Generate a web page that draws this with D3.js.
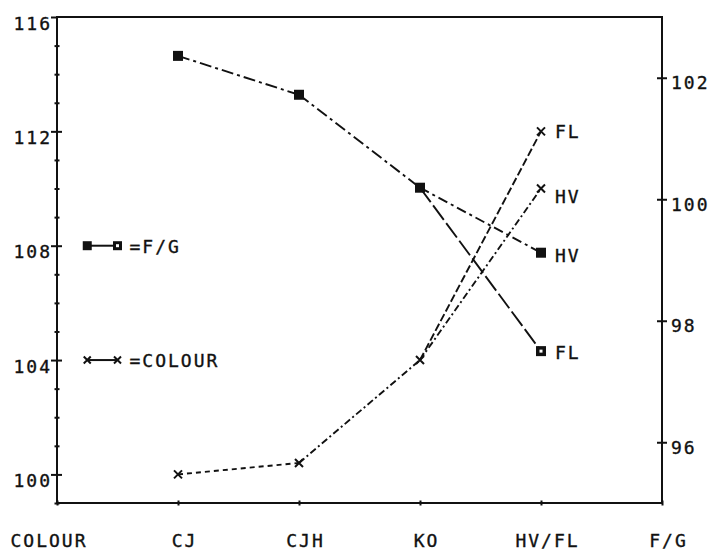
<!DOCTYPE html>
<html>
<head>
<meta charset="utf-8">
<script src="https://cdn.jsdelivr.net/npm/d3@7"></script>
<style>
  html, body { margin: 0; padding: 0; background: #fff; }
  svg { display: block; }
  text { font-family: "DejaVu Sans Mono", monospace; font-size: 18px; letter-spacing: 2px; fill: #111; stroke: #111; stroke-width: 0.35px; }
</style>
</head>
<body>
<svg id="chart" width="710" height="551"></svg>
<script>
// ---- data ----
const axisLabels = ["COLOUR", "CJ", "CJH", "KO", "HV/FL", "F/G"];
const mainCats = ["CJ", "CJH", "KO"];
const branchCat = "HV/FL";
const branchNames = ["HV", "FL"];
const fgValues = [102.36, 101.72, 100.19];      // F/G (right axis) at CJ, CJH, KO
const fgBranchValues = [99.12, 97.5];           // F/G at HV, FL
const colourValues = [100.0, 100.4, 104.0];     // COLOUR (left axis) at CJ, CJH, KO
const colourBranchValues = [110.0, 112.0];      // COLOUR at HV, FL
const leftTicks = [100, 104, 108, 112, 116];
const rightTicks = [96, 98, 100, 102];
const legendItems = ["=F/G", "=COLOUR"];
const legendLevels = [108, 104];

// ---- layout ----
const L = 57, R = 662, T = 17, B = 503;
const svg = d3.select("#chart");
const x = d3.scalePoint().domain(axisLabels).range([L, R]);
const yL = d3.scaleLinear().domain([99, 116]).range([B, T]);
const yR = d3.scaleLinear().domain([95, 103]).range([B, T]);
const ink = "#111";

// frame
svg.append("rect").attr("x", L).attr("y", T).attr("width", R - L).attr("height", B - T)
  .attr("fill", "none").attr("stroke", ink).attr("stroke-width", 2);

// left axis: minor ticks at every unit, major at labelled ticks
const leftAxis = d3.axisLeft(yL).tickValues(d3.range(99, 117)).tickSize(0).tickFormat("");
const gl = svg.append("g").attr("transform", `translate(${L},0)`).call(leftAxis);
gl.select(".domain").remove();
gl.selectAll(".tick").append("line")
  .attr("stroke", ink).attr("stroke-width", 2)
  .attr("x1", d => leftTicks.includes(d) ? -6 : -2.5)
  .attr("x2", d => leftTicks.includes(d) ? (d === 116 ? 0 : 5) : 2.5);
gl.selectAll(".tick").filter(d => leftTicks.includes(d)).append("text")
  .attr("x", -5).attr("dy", 12).attr("text-anchor", "end").text(d => d);

// right axis
const rightAxis = d3.axisRight(yR).tickValues(rightTicks).tickSize(0).tickFormat(d => d);
const gr = svg.append("g").attr("transform", `translate(${R},0)`).call(rightAxis);
gr.select(".domain").remove();
gr.selectAll(".tick text").attr("x", 9).attr("dy", 11).attr("text-anchor", "start");
gr.selectAll(".tick").append("line").attr("x1", -5).attr("x2", 5)
  .attr("stroke", ink).attr("stroke-width", 2);

// bottom axis
const bottomAxis = d3.axisBottom(x).tickSize(0).tickFormat(d => d);
const gb = svg.append("g").attr("transform", `translate(0,${B})`).call(bottomAxis);
gb.select(".domain").remove();
gb.selectAll(".tick").append("line").attr("y1", -2.5).attr("y2", 2.5)
  .attr("stroke", ink).attr("stroke-width", 2);
gb.selectAll(".tick text").attr("y", 44).attr("dy", null)
  .attr("text-anchor", (d, i) => i === 0 ? "end" : "middle")
  .attr("x", (d, i) => i === 0 ? 30 : 6);
svg.selectAll(".tick text").attr("fill", ink).attr("font-family", null).attr("font-size", null);

// ---- series ----
function seg(p, dash, w) {
  svg.append("path")
    .attr("d", d3.line()(p))
    .attr("fill", "none").attr("stroke", ink).attr("stroke-width", w || 1.9)
    .attr("stroke-dasharray", dash);
}
function square(px, py, s, hole) {
  svg.append("rect").attr("x", px - s / 2).attr("y", py - s / 2).attr("width", s).attr("height", s)
    .attr("fill", ink);
  if (hole) svg.append("rect").attr("x", px - 1.5).attr("y", py - 1.5).attr("width", 3).attr("height", 3)
    .attr("fill", "#fff");
}
function cross(px, py, s) {
  svg.append("path")
    .attr("d", `M${px - s},${py - s}L${px + s},${py + s}M${px - s},${py + s}L${px + s},${py - s}`)
    .attr("stroke", ink).attr("stroke-width", 2).attr("fill", "none");
}

// F/G
const fgPts = mainCats.map((c, i) => [x(c), yR(fgValues[i])]);
seg([fgPts[0], fgPts[1]], "12,4,3,4");
seg([fgPts[1], fgPts[2]], "12,4,3,4");
const fgHV = [x(branchCat), yR(fgBranchValues[0])];
const fgFL = [x(branchCat), yR(fgBranchValues[1])];
seg([fgPts[2], fgHV], "10,4,3,4");
seg([fgPts[2], fgFL], "18,4");

// COLOUR
const cPts = mainCats.map((c, i) => [x(c), yL(colourValues[i])]);
seg([cPts[0], cPts[1]], "5,4");
seg([cPts[1], cPts[2]], "7,3,2,3");
const cHV = [x(branchCat), yL(colourBranchValues[0])];
const cFL = [x(branchCat), yL(colourBranchValues[1])];
seg([cPts[2], cHV], "7,3,2,3");
seg([cPts[2], cFL], "8,3");

fgPts.forEach(p => square(p[0], p[1], 10, false));
square(fgHV[0], fgHV[1], 10, false);
square(fgFL[0], fgFL[1], 10, true);
cPts.forEach(p => cross(p[0], p[1], 4));
cross(cHV[0], cHV[1], 4);
cross(cFL[0], cFL[1], 4);

// end labels
const ends = [
  { p: cFL, t: branchNames[1], dy: 7 },
  { p: cHV, t: branchNames[0], dy: 14 },
  { p: fgHV, t: branchNames[0], dy: 9 },
  { p: fgFL, t: branchNames[1], dy: 8 }
];
ends.forEach(e => svg.append("text").attr("x", e.p[0] + 14).attr("y", e.p[1] + e.dy).text(e.t));

// ---- legend (placed in data coordinates) ----
const lx1 = L + x.step() * 0.25, lx2 = L + x.step() * 0.5;
const ly0 = yL(legendLevels[0]), ly1 = yL(legendLevels[1]);
seg([[lx1, ly0], [lx2, ly0]], null, 2);
square(lx1, ly0, 9, false);
square(lx2, ly0, 9, true);
svg.append("text").attr("x", lx2 + 12).attr("y", ly0 + 7).text(legendItems[0]);
seg([[lx1, ly1], [lx2, ly1]], null, 2);
cross(lx1, ly1, 3.5);
cross(lx2, ly1, 3.5);
svg.append("text").attr("x", lx2 + 12).attr("y", ly1 + 7).text(legendItems[1]);
</script>
</body>
</html>
